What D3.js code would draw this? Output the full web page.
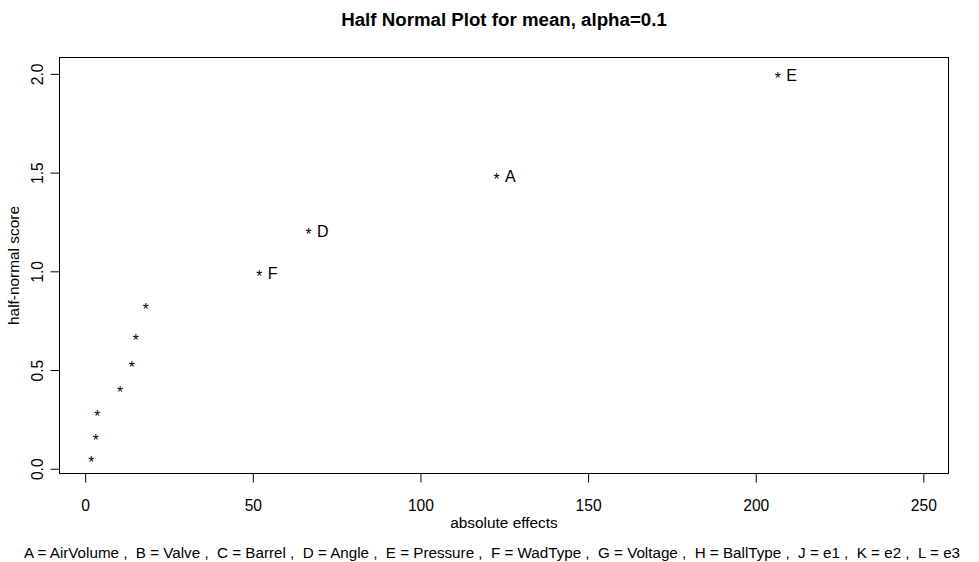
<!DOCTYPE html>
<meta charset="utf-8">
<script src="https://d3js.org/d3.v7.min.js"></script>
<style>
  body { margin: 0; background: #fff; }
  text { font-family: Arial, "Liberation Sans", sans-serif; fill: #000; }
</style>
<div id="chart"></div>
<script>

// values
var effects = [1.8, 3.2, 3.6, 10.4, 13.9, 15.1, 18.1, 51.9, 66.6, 122.7, 206.6];
var scores  = [0.045, 0.16, 0.28, 0.40, 0.53, 0.665, 0.82, 0.99, 1.20, 1.48, 1.99];
var pointLabels = ["", "", "", "", "", "", "", "F", "D", "A", "E"];
var xTicks = [0, 50, 100, 150, 200, 250];
var yTicks = [0, 0.5, 1, 1.5, 2];
var legendText = "A = AirVolume ,  B = Valve ,  C = Barrel ,  D = Angle ,  E = Pressure ,  F = WadType ,  G = Voltage ,  H = BallType ,  J = e1 ,  K = e2 ,  L = e3";

var width = 979, height = 562;
var box = {left: 59.5, right: 948.5, top: 57.5, bottom: 473.5};

var svg = d3.select("#chart").append("svg")
  .attr("width", width)
  .attr("height", height);

var x = d3.scaleLinear().domain([-7.66, 257.5]).range([box.left, box.right]);
var y = d3.scaleLinear().domain([-0.024, 2.083]).range([box.bottom, box.top]);

// plot box
svg.append("rect")
  .attr("x", box.left).attr("y", box.top)
  .attr("width", box.right - box.left)
  .attr("height", box.bottom - box.top)
  .attr("fill", "none").attr("stroke", "#000").attr("stroke-width", 1);

// x axis
var xAxis = svg.append("g")
  .attr("transform", "translate(0," + box.bottom + ")")
  .call(d3.axisBottom(x).tickValues(xTicks).tickSize(9).tickPadding(17)
    .tickFormat(d3.format("d")));
xAxis.select(".domain").remove();
xAxis.selectAll("line").attr("stroke", "#000");
xAxis.selectAll("text").attr("font-size", 15.6).attr("fill", "#000")
  .style("font-family", "Arial, 'Liberation Sans', sans-serif");

// y axis, labels rotated as in R
var yAxis = svg.append("g")
  .attr("transform", "translate(" + box.left + ",0)")
  .call(d3.axisLeft(y).tickValues(yTicks).tickSize(9)
    .tickFormat(d3.format(".1f")));
yAxis.select(".domain").remove();
yAxis.selectAll("line").attr("stroke", "#000");
yAxis.selectAll("text")
  .attr("x", null).attr("dy", null)
  .attr("transform", "translate(-22,0) rotate(-90)")
  .attr("text-anchor", "middle")
  .attr("dy", "0.36em")
  .attr("font-size", 15.6).attr("fill", "#000")
  .style("font-family", "Arial, 'Liberation Sans', sans-serif");

// points drawn as asterisks
svg.selectAll(".pt")
  .data(effects)
  .enter().append("text")
  .attr("class", "pt")
  .attr("x", function(d) { return x(d); })
  .attr("y", function(d, i) { return y(scores[i]) + 8.5; })
  .attr("text-anchor", "middle")
  .attr("font-size", 15.6)
  .text("*");

// effect labels
svg.selectAll(".lab")
  .data(effects)
  .enter().append("text")
  .attr("class", "lab")
  .attr("x", function(d) { return x(d) + 8.5; })
  .attr("y", function(d, i) { return y(scores[i]) + 5.5; })
  .attr("font-size", 16)
  .text(function(d, i) { return pointLabels[i]; });

// titles
svg.append("text")
  .attr("x", (box.left + box.right) / 2).attr("y", 26)
  .attr("text-anchor", "middle")
  .attr("font-size", 18.7).attr("font-weight", "bold")
  .text("Half Normal Plot for mean, alpha=0.1");

svg.append("text")
  .attr("x", (box.left + box.right) / 2).attr("y", 528)
  .attr("text-anchor", "middle")
  .attr("font-size", 15.4)
  .text("absolute effects");

svg.append("text")
  .attr("transform", "translate(19," + (box.top + box.bottom) / 2 + ") rotate(-90)")
  .attr("text-anchor", "middle")
  .attr("font-size", 15.4)
  .text("half-normal score");

// factor key under the plot (slightly narrowed so it fits the window)
svg.append("text")
  .attr("x", 24).attr("y", 558)
  .attr("font-size", 15.2)
  .style("white-space", "pre")
  .text(legendText);

</script>
